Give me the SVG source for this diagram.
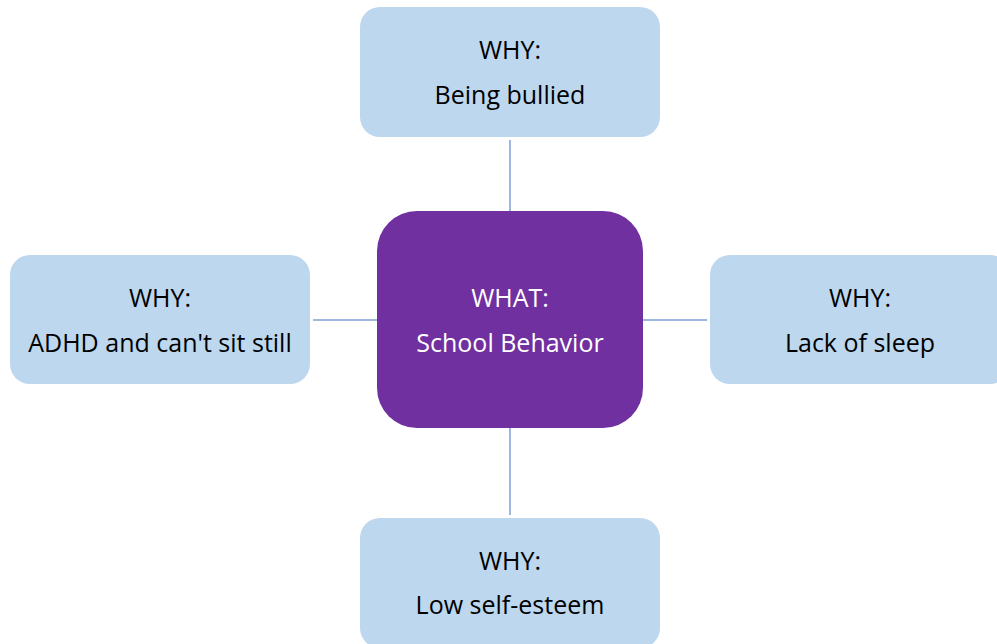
<svg xmlns="http://www.w3.org/2000/svg" width="997" height="644" viewBox="0 0 997 644">
<style>
.why{fill:#bdd7ee}
.what{fill:#7030a0}
.t{font-family:"Open Sans","Noto Sans","Liberation Sans",sans-serif;font-size:25px;text-anchor:middle}
.dark{fill:#000}
.light{fill:#fff}
.c{stroke:#7f9fd6;stroke-width:1.5;fill:none}
</style>
<rect width="997" height="644" fill="#fff"/>
<g id="connectors">
<line class="c" x1="510" y1="140" x2="510" y2="211"/>
<line class="c" x1="510" y1="428" x2="510" y2="515"/>
<line class="c" x1="313" y1="320" x2="377" y2="320"/>
<line class="c" x1="643" y1="320" x2="707" y2="320"/>
</g>
<g id="top">
<rect class="why" x="360" y="7" width="300" height="130" rx="20"/>
<text class="t dark" x="510" y="59">WHY:</text>
<text class="t dark" x="510" y="104">Being bullied</text>
</g>
<g id="left">
<rect class="why" x="10" y="255" width="300" height="129" rx="20"/>
<text class="t dark" x="160" y="307">WHY:</text>
<text class="t dark" x="160" y="352">ADHD and can't sit still</text>
</g>
<g id="right">
<rect class="why" x="710" y="255" width="300" height="129" rx="20"/>
<text class="t dark" x="860" y="307">WHY:</text>
<text class="t dark" x="860" y="352">Lack of sleep</text>
</g>
<g id="bottom">
<rect class="why" x="360" y="518" width="300" height="130" rx="20"/>
<text class="t dark" x="510" y="570">WHY:</text>
<text class="t dark" x="510" y="614">Low self-esteem</text>
</g>
<g id="center">
<rect class="what" x="377" y="211" width="266" height="217" rx="40"/>
<text class="t light" x="510" y="307">WHAT:</text>
<text class="t light" x="510" y="352">School Behavior</text>
</g>
</svg>
